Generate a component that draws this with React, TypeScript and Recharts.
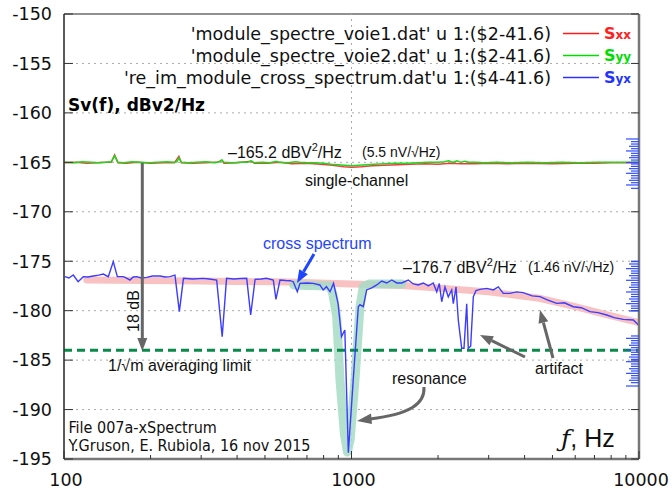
import React from "react";
import { ComposedChart, Line, XAxis, YAxis, ReferenceLine, ReferenceArea } from "recharts";

// axis ticks
const xMajor = [100, 1000, 10000];
const xTicks = [100, 200, 300, 400, 500, 600, 700, 800, 900, 1000, 2000, 3000, 4000, 5000, 6000, 7000, 8000, 9000, 10000];
const yTicks = [-195, -190, -185, -180, -175, -170, -165, -160, -155, -150];
const gridDb = [-190, -185, -180, -175, -170, -165, -160, -155];
const gridHz = [1000];
const limitDb = -184;

// single-channel spectra [Hz, dB]
const sxx: [number, number][] = [
  [100, -165.05], [110, -165.0], [120, -165.1], [130, -165.05], [140, -165.0], [146, -165.0], [150, -164.25],
  [154, -165.05], [165, -165.1], [180, -165.0], [200, -165.1], [222, -165.05], [242, -165.05], [251, -164.4],
  [256, -165.05], [280, -165.1], [310, -165.05], [340, -165.0], [354, -164.8], [360, -165.1], [400, -165.05],
  [448, -164.9], [460, -165.1], [510, -165.1], [560, -165.0], [620, -165.15], [700, -165.1], [780, -165.2],
  [860, -165.3], [940, -165.45], [1000, -165.5], [1080, -165.45], [1180, -165.35], [1300, -165.3], [1450, -165.25],
  [1600, -165.2], [1800, -165.15], [2000, -165.2], [2200, -165.1], [2400, -165.15], [2700, -165.15], [3000, -165.1],
  [3500, -165.15], [4000, -165.1], [5000, -165.15], [6000, -165.1], [7000, -165.1], [8000, -165.05], [9000, -165.05],
  [10000, -165.05],
];

const syy: [number, number][] = [
  [100, -165.0], [108, -165.05], [116, -164.95], [124, -165.0], [132, -165.05], [140, -165.0], [146, -164.95],
  [150, -164.35], [154, -165.0], [162, -165.05], [172, -164.95], [184, -165.0], [198, -165.05], [212, -165.0],
  [228, -164.95], [242, -165.0], [247, -164.95], [251, -164.55], [256, -165.0], [270, -165.05], [290, -165.0],
  [312, -164.95], [335, -165.05], [348, -164.95], [354, -164.75], [360, -165.0], [385, -165.05], [410, -165.0],
  [435, -165.0], [448, -164.85], [460, -165.05], [490, -165.0], [520, -165.05], [548, -164.9], [560, -165.0],
  [600, -165.05], [640, -164.95], [660, -165.0], [700, -165.05], [750, -165.05], [800, -165.1], [850, -165.2],
  [900, -165.25], [950, -165.3], [1000, -165.35], [1060, -165.3], [1120, -165.25], [1200, -165.2], [1300, -165.15],
  [1420, -165.1], [1550, -165.1], [1700, -165.05], [1850, -165.0], [2000, -165.0], [2100, -164.95], [2180, -164.85],
  [2250, -165.0], [2330, -164.85], [2400, -165.0], [2480, -164.9], [2560, -165.0], [2700, -165.0], [2900, -165.05],
  [3200, -165.0], [3600, -165.05], [4100, -165.0], [4700, -165.05], [5400, -165.0], [6200, -165.05], [7200, -165.0],
  [8400, -165.0], [10000, -165.0],
];

// cross spectrum
const syx: [number, number][] = [
  [100.8, -176.56], [104, -176.7], [107.7, -176.39], [112, -177.07], [116.7, -176.56], [121, -176.6], [126.5, -176.5],
  [132, -176.4], [137, -176.3], [142.6, -176.56], [148.4, -175.04], [153.3, -176.56], [160.8, -176.56], [165, -176.7],
  [169.6, -176.9], [174, -176.6], [179, -176.56], [186, -176.7], [194, -176.63], [203, -176.5], [215.6, -176.5],
  [225, -176.6], [233.6, -176.56], [243.2, -176.4], [251.9, -180.1], [260.3, -176.73], [280, -176.8], [305, -176.73],
  [320, -176.8], [339.6, -176.9], [355, -182.63], [367.6, -176.73], [390, -176.8], [410, -176.75], [432, -176.73],
  [446, -180.44], [462, -176.83], [485, -176.8], [506, -176.73], [534.5, -176.9], [546, -178.85], [564, -176.9],
  [590, -176.95], [612, -176.97], [627, -177.07], [648, -178.08], [662, -177.24], [700, -177.2], [736, -177.24],
  [776, -177.4], [797, -177.9], [818, -177.57], [842, -178.08], [866, -177.24], [898, -179.26], [923, -182.63],
  [948, -181.95], [975, -194.36], [1014, -187.0], [1056, -179.6], [1070, -179.4], [1099, -179.6], [1129, -177.9],
  [1176, -177.7], [1224, -177.4], [1274, -177.0], [1326, -177.2], [1380, -176.9], [1437, -177.2], [1495, -177.2],
  [1576, -176.9], [1641, -177.3], [1707, -177.4], [1777, -177.2], [1850, -177.5], [1925, -177.2], [1979, -178.1],
  [2020, -177.25], [2060, -179.1], [2114, -177.6], [2171, -178.6], [2231, -177.9], [2260, -179.3], [2310, -177.6],
  [2353, -181.0], [2417, -183.8], [2462, -183.8], [2516, -179.3], [2548, -183.8], [2597, -183.6], [2653, -178.6],
  [2710, -177.98], [2799, -177.85], [2953, -177.75], [3113, -177.9], [3240, -177.6], [3373, -178.25], [3558, -178.25],
  [3750, -178.1], [3959, -178.18], [4250, -178.5], [4525, -178.58], [4800, -178.9], [5172, -179.26], [5500, -179.2],
  [5908, -179.6], [6300, -179.7], [6754, -180.1], [7200, -180.2], [7720, -180.44], [8200, -180.7], [8817, -180.88],
  [9555, -180.94], [10000, -181.5],
];

// hand-drawn highlight bands
const trend: [number, number][] = [
  [120, -176.9], [300, -177.0], [600, -177.1], [1000, -177.3], [1500, -177.45], [2000, -177.7], [3000, -178.1],
  [4500, -178.75], [6000, -179.6], [7700, -180.4], [10000, -181.2],
];
const resonance: [number, number][] = [
  [630, -177.4], [700, -177.45], [842, -177.5], [861, -178.3], [888, -180.6], [912, -187], [945, -192.5],
  [968, -194.3], [990, -193], [1028, -187], [1045, -184], [1070, -179.6], [1099, -177.6], [1150, -177.3], [1495, -177.3],
];

// blue rug ticks on the right border
const rugTicks = [
  -162.64, -162.91, -163.15, -163.38, -163.62, -163.85, -164.09, -164.33, -164.53, -164.77, -165.02, -165.17,
  -165.41, -165.64, -165.88, -166.11, -166.35, -166.59, -166.82, -167.06, -167.29, -167.63,
  -175.04, -175.28, -175.52, -175.75, -175.99, -176.22, -176.46, -176.7, -176.93, -177.17, -177.4, -177.64,
  -177.88, -178.11, -178.35, -178.58, -178.82, -179.06, -179.29, -179.53, -179.76, -180.03,
  -182.56, -182.8, -183.03, -183.27, -183.5, -183.74, -183.98, -184.21, -184.45, -184.69, -184.92, -185.16,
  -185.39, -185.63, -185.87, -186.1, -186.34, -186.57, -186.81, -187.04, -187.28, -187.62,
];

const legendRows = [
  { file: "'module_spectre_voie1.dat' u 1:($2-41.6)", sub: "xx", color: "#ff2020", line: "#ff1a1a" },
  { file: "'module_spectre_voie2.dat' u 1:($2-41.6)", sub: "yy", color: "#00dd00", line: "#00e000" },
  { file: "'re_im_module_cross_spectrum.dat'u 1:($4-41.6)", sub: "yx", color: "#2233ff", line: "#3030ff" },
];

const FONT = "'DejaVu Sans', sans-serif";
const ANN = "'Liberation Sans', Arial, sans-serif";
const NARROW = "'Liberation Sans Narrow', 'DejaVu Sans Condensed', sans-serif";

const pts = (a: [number, number][]) => a.map(([f, v]) => ({ f, v }));

function XTick(props: any) {
  const { x, y, payload } = props;
  const major = xMajor.includes(payload.value);
  return (
    <g>
      <line x1={x} x2={x} y1={y} y2={y - (major ? 8 : 4)} stroke="#333" />
      {major && (
        <text x={x + 2} y={y + 27} textAnchor="middle" fontSize={17.5} fontFamily={FONT} fill="#111">
          {payload.value}
        </text>
      )}
    </g>
  );
}

function YTickLeft(props: any) {
  const { x, y, payload } = props;
  return (
    <g>
      <line x1={x} x2={x + 9} y1={y} y2={y} stroke="#333" />
      <text x={x - 12} y={y} dy="0.36em" textAnchor="end" fontSize={17.5} fontFamily={FONT} fill="#111">
        {payload.value}
      </text>
    </g>
  );
}

// right border: grey major ticks plus the blue rug
function YTickRight(props: any) {
  const { x, y, payload } = props;
  if (yTicks.includes(payload.value)) {
    return <line x1={x - 8} x2={x} y1={y} y2={y} stroke="#333" />;
  }
  const i = rugTicks.indexOf(payload.value);
  const len = i % 5 === 0 ? 13 : i % 5 === 3 ? 10 : 8;
  return <line x1={x - len} x2={x} y1={y} y2={y} stroke="#2f4cff" strokeWidth={1.2} />;
}

function Arrow({ x1, y1, x2, y2, color, w = 3 }: any) {
  const dx = x2 - x1, dy = y2 - y1;
  const L = Math.hypot(dx, dy);
  const ux = dx / L, uy = dy / L;
  const hl = 13, hw = 5;
  const bx = x2 - ux * hl, by = y2 - uy * hl;
  return (
    <g>
      <line x1={x1} y1={y1} x2={bx} y2={by} stroke={color} strokeWidth={w} />
      <polygon
        points={`${x2},${y2} ${bx - uy * hw},${by + ux * hw} ${bx + uy * hw},${by - ux * hw}`}
        fill={color}
      />
    </g>
  );
}

export default function App() {
  return (
    <div style={{ position: "relative", width: 672, height: 494, background: "#fff" }}>
      <style>{`body{margin:0}`}</style>
      <ComposedChart width={672} height={494} margin={{ top: 14, right: 0, bottom: 0, left: 0 }}>
        <XAxis
          dataKey="f"
          type="number"
          scale="log"
          domain={[100, 10000]}
          allowDataOverflow
          ticks={xTicks}
          interval={0}
          tick={<XTick />}
          tickLine={false}
          tickSize={0}
          tickMargin={0}
          height={35}
          axisLine={{ stroke: "#777", strokeWidth: 2.5 }}
        />
        <YAxis
          type="number"
          domain={[-195, -150]}
          allowDataOverflow
          ticks={yTicks}
          interval={0}
          tick={<YTickLeft />}
          tickLine={false}
          tickSize={0}
          tickMargin={0}
          width={64}
          axisLine={{ stroke: "#222" }}
        />
        <YAxis
          yAxisId="right"
          orientation="right"
          type="number"
          domain={[-195, -150]}
          allowDataOverflow
          ticks={[...yTicks, ...rugTicks]}
          interval={0}
          tick={<YTickRight />}
          tickLine={false}
          tickSize={0}
          tickMargin={0}
          width={33}
          axisLine={{ stroke: "#777", strokeWidth: 2.5 }}
        />
        <ReferenceArea x1={100} x2={10000} y1={-195} y2={-150} fill="none" stroke="#222" strokeWidth={1} />
        {gridDb.map((d) => (
          <ReferenceLine key={d} y={d} stroke="#aaa" strokeDasharray="2 4" />
        ))}
        {gridHz.map((h) => (
          <ReferenceLine key={h} x={h} stroke="#aaa" strokeDasharray="2 4" />
        ))}
        <Line data={pts(trend)} dataKey="v" stroke="#f8c2c2" strokeWidth={7} dot={false} isAnimationActive={false} strokeLinecap="round" />
        <Line data={pts(resonance)} dataKey="v" stroke="#a6dcc6" strokeOpacity={0.85} strokeWidth={9} dot={false} isAnimationActive={false} strokeLinecap="round" strokeLinejoin="round" />
        <ReferenceLine y={limitDb} stroke="#098a4a" strokeWidth={3} strokeDasharray="8 5" />
        <Line data={pts(sxx)} dataKey="v" stroke="#f03c3c" strokeWidth={1.5} dot={false} isAnimationActive={false} />
        <Line data={pts(syy)} dataKey="v" stroke="#1ed81e" strokeWidth={1.5} dot={false} isAnimationActive={false} />
        <Line data={pts(syx)} dataKey="v" stroke="#3c3cff" strokeWidth={1.4} dot={false} isAnimationActive={false} />
      </ComposedChart>

      <svg width={672} height={494} style={{ position: "absolute", left: 0, top: 0, pointerEvents: "none" }}>
        {legendRows.map((r, i) => {
          const cy = 33.5 + i * 22;
          return (
            <g key={r.sub}>
              <text x={551} y={cy} dy="0.36em" textAnchor="end" fontSize={17.5} fontFamily={FONT} fill="#111">
                {r.file}
              </text>
              <line x1={563} x2={599} y1={cy} y2={cy} stroke={r.line} strokeWidth={1.5} />
              <text x={604} y={cy} dy="0.36em" fontFamily={FONT} fontWeight="bold" fill={r.color}>
                <tspan fontSize={16}>S</tspan>
                <tspan fontSize={12}>{r.sub}</tspan>
              </text>
            </g>
          );
        })}
        <text x={68} y={111} fontSize={17} fontWeight="bold" fontFamily={FONT} fill="#000">
          Sv(f), dBv2/Hz
        </text>

        <g fontFamily={ANN} fill="#111">
          <text x={228} y={158} fontSize={16}>
            –165.2 dBV<tspan fontSize={11} dy={-7}>2</tspan><tspan dy={7}>/Hz</tspan>
          </text>
          <text x={362} y={157} fontSize={14}>(5.5 nV/√Hz)</text>
          <text x={305} y={185.5} fontSize={16}>single-channel</text>
          <text x={263} y={248.5} fontSize={16} fill="#1f45ff">cross spectrum</text>
          <text x={403} y={272.5} fontSize={16}>
            –176.7 dBV<tspan fontSize={11} dy={-7}>2</tspan><tspan dy={7}>/Hz</tspan>
          </text>
          <text x={528} y={272} fontSize={14}>(1.46 nV/√Hz)</text>
          <text x={138.5} y={311} fontSize={16} textAnchor="middle" transform="rotate(-90 138.5 311)">18 dB</text>
          <text x={108} y={370.5} fontSize={16}>1/√m averaging limit</text>
          <text x={392} y={383.5} fontSize={16}>resonance</text>
          <text x={535} y={373.5} fontSize={16}>artifact</text>
          <text x={68.5} y={432.5} fontSize={16} fontFamily={NARROW}>File 007a-xSpectrum</text>
          <text x={68.5} y={450.5} fontSize={16} fontFamily={NARROW}>Y.Gruson, E. Rubiola, 16 nov 2015</text>
          <text x={561} y={446.5} fontSize={25}>
            <tspan fontStyle="italic" fontFamily="'DejaVu Serif', serif">ƒ</tspan>, Hz
          </text>
        </g>

        <Arrow x1={142.3} y1={163} x2={142.3} y2={351} color="#666" />
        <Arrow x1={314} y1={254} x2={297} y2={283} color="#1f45ff" />
        <Arrow x1={525} y1={357} x2={480} y2={335} color="#666" />
        <Arrow x1={553} y1={358} x2={540} y2={310} color="#666" />
        <path d="M424,387 C425,404 410,414 370,419" fill="none" stroke="#666" strokeWidth={3} />
        <polygon points="357,421 371,413.5 372,424" fill="#666" />
      </svg>
    </div>
  );
}
